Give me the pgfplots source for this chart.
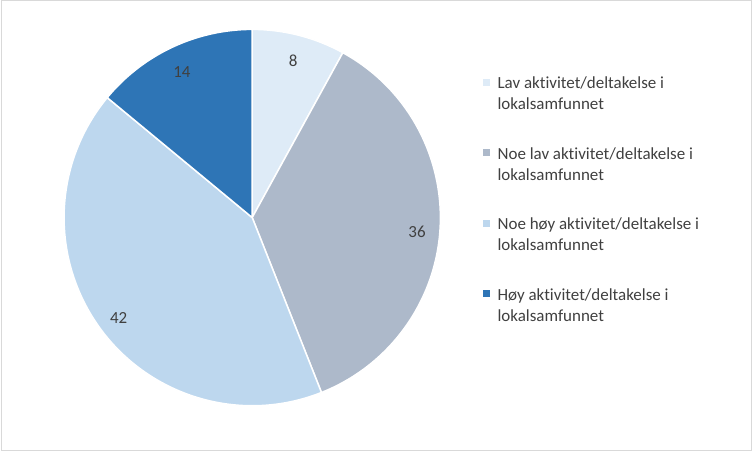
\documentclass[border=0pt]{standalone}
\usepackage{fontspec}
\setmainfont{Carlito}[Ligatures={NoCommon,NoContextual}]
\usepackage{pgfplots}
\usetikzlibrary{calc}
\pgfplotsset{compat=1.18}
\definecolor{c1}{HTML}{DEEBF7}
\definecolor{c2}{HTML}{ADB9CA}
\definecolor{c3}{HTML}{BDD7EE}
\definecolor{c4}{HTML}{2E75B6}
\definecolor{txt}{HTML}{404040}
\definecolor{frame}{HTML}{D9D9D9}
\begin{document}
\begin{tikzpicture}
\begin{axis}[
  scale only axis, width=752bp, height=452bp,
  xmin=0, xmax=752, ymin=0, ymax=452,
  hide axis, clip=false,
]
\addplot[draw=none] coordinates {(0,0)};
\pgfplotsextra{
  \draw[frame, line width=0.75bp] (axis cs:1,1) rectangle (axis cs:751,451);
  \foreach \v/\c [remember=\ang as \last (initially 90), evaluate=\v as \ang using {\last-\v*3.6}, evaluate=\v as \mid using {\last-\v*1.8}] in {8/c1,36/c2,42/c3,14/c4} {
    \fill[\c, draw=white, line width=1.5bp, line join=round] (axis cs:252,234) -- ++(\last:188bp) arc[start angle=\last, end angle=\ang, radius=188bp] -- cycle;
    \node[text=txt, font=\fontsize{17}{20}\selectfont, inner sep=0] at ($(axis cs:252,230.5)+(\mid:165bp)$) {\v};
  }
  \foreach \c/\t [count=\k] in {c1/{Lav aktivitet/deltakelse i}, c2/{Noe lav aktivitet/deltakelse i}, c3/{Noe høy aktivitet/deltakelse i}, c4/{Høy aktivitet/deltakelse i}} {
    \pgfmathsetmacro{\yy}{452-94-70.4*(\k-1)}
    \fill[\c] (axis cs:483,\yy+7.5) rectangle (axis cs:490,\yy+14.5);
    \node[anchor=west, align=left, text=txt, font=\fontsize{17}{21}\selectfont, inner sep=0] at (axis cs:497,\yy) {\t\\lokalsamfunnet};
  }
}
\end{axis}
\end{tikzpicture}
\end{document}
